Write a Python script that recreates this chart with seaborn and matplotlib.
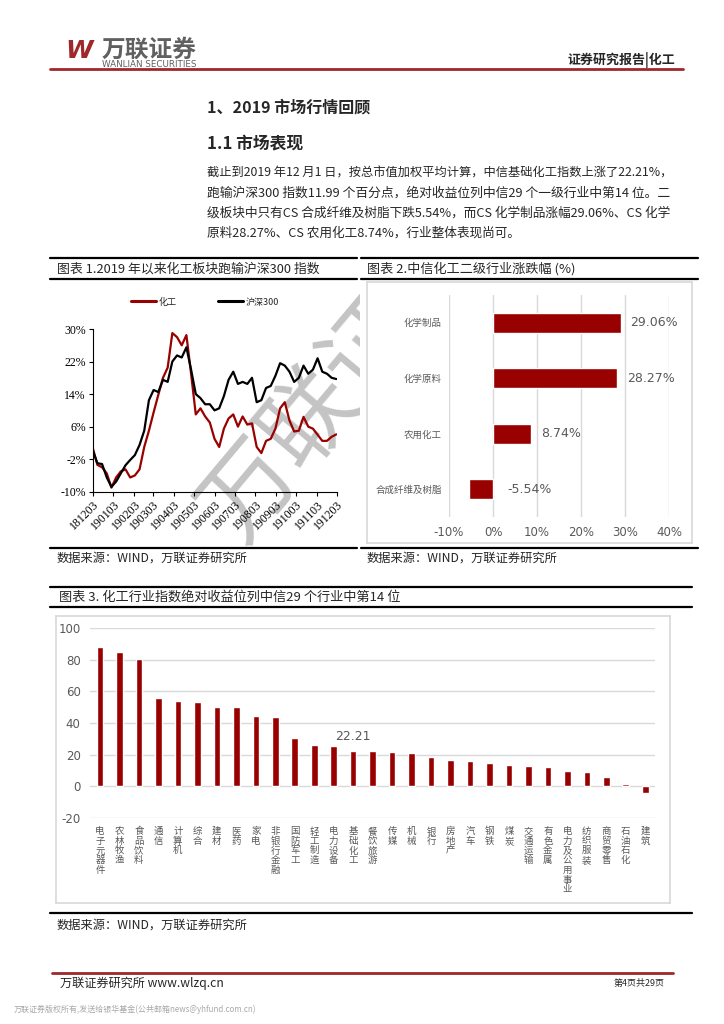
import matplotlib
matplotlib.use('Agg')
import matplotlib.pyplot as plt
from matplotlib.lines import Line2D
from matplotlib.transforms import Bbox, TransformedBbox
import numpy as np
import pandas as pd
import seaborn as sns

W, H = 724, 1024

# ---- data ----
dates = pd.date_range('2018-12-03', periods=53, freq='7D')
chem = [0.8, -3.4, -4.0, -5.5, -9.0, -6.5, -5.0, -4.5, -6.5, -6.0, -4.5, 1.0, 5.0,
        9.5, 13.8, 18.0, 20.5, 29.0, 28.0, 26.0, 28.5, 19.0, 9.0, 10.5, 8.5, 7.0,
        3.0, 1.0, 5.5, 8.0, 9.0, 6.0, 8.5, 6.5, 6.8, 1.0, -0.5, 2.5, 3.0, 5.5, 10.5,
        12.0, 7.5, 4.8, 5.0, 8.4, 6.0, 5.5, 4.0, 2.5, 2.5, 3.5, 4.1]
hs300 = [0.2, -3.0, -3.2, -6.5, -8.8, -7.5, -5.5, -3.5, -2.2, -1.0, 1.5, 5.0, 12.5,
         15.0, 14.5, 17.5, 17.0, 22.0, 23.5, 23.0, 25.5, 20.0, 14.0, 13.0, 11.5, 11.5,
         10.0, 10.5, 13.5, 17.5, 19.5, 16.5, 17.0, 16.5, 18.0, 12.0, 12.5, 15.5, 16.0,
         18.5, 21.6, 21.0, 19.5, 17.0, 18.0, 21.0, 19.0, 20.0, 22.8, 19.5, 19.0, 18.0, 17.7]
line_names = ['化工', '沪深300']
y_ticks1 = [-10, -2, 6, 14, 22, 30]

sub_names = ['化学制品', '化学原料', '农用化工', '合成纤维及树脂']
sub_values = [29.06, 28.27, 8.74, -5.54]

ind_names = ['电子元器件', '农林牧渔', '食品饮料', '通信', '计算机', '综合', '建材', '医药',
             '家电', '非银行金融', '国防军工', '轻工制造', '电力设备', '基础化工', '餐饮旅游',
             '传媒', '机械', '银行', '房地产', '汽车', '钢铁', '煤炭', '交通运输', '有色金属',
             '电力及公用事业', '纺织服装', '商贸零售', '石油石化', '建筑']
ind_values = [88.0, 85.1, 80.4, 55.8, 53.9, 53.5, 50.1, 49.9, 44.6, 43.8, 30.5, 26.3,
              25.3, 22.21, 22.1, 21.9, 20.8, 18.3, 16.4, 16.0, 14.9, 13.7, 12.8, 12.4,
              9.7, 9.1, 6.1, 1.3, -4.2]
highlight = '基础化工'

RED = '#990000'
GRAY = '#595959'
GRID = '#d9d9d9'
BRAND = '#A0282A'

sns.set_theme(style='white')
plt.rcParams['font.family'] = ['Noto Sans CJK SC', 'DejaVu Sans']
plt.rcParams['axes.unicode_minus'] = False

fig = plt.figure(figsize=(W / 100, H / 100), dpi=100)
renderer = fig.canvas.get_renderer()


def box(x0, y0, x1, y1):
    return [x0 / W, 1 - y1 / H, (x1 - x0) / W, (y1 - y0) / H]


def hline(x0, x1, y, color='black', lw=1.6):
    fig.add_artist(Line2D([x0 / W, x1 / W], [1 - y / H, 1 - y / H], color=color, lw=lw))


def text(x, y, s, **kw):
    kw.setdefault('va', 'center')
    return fig.text(x / W, 1 - y / H, s, **kw)


def fit(x, y, s, width, size=9, **kw):
    "text scaled so it spans `width` pixels"
    t = text(x, y, s, fontsize=size, **kw)
    w = t.get_window_extent(renderer).width
    t.set_fontsize(size * width / w)
    return t


# ---- page header ----
text(65, 51, 'W', fontsize=18, fontweight='bold', style='italic', color=BRAND, family='DejaVu Sans')
fit(102, 50, '万联证券', 95, size=15, color='#606060', fontweight='bold')
fit(102, 64.5, 'WANLIAN SECURITIES', 95, size=5.5, color='#606060', family='DejaVu Sans')
fit(675 - 107, 60, '证券研究报告|化工', 107, size=8.5, fontweight='bold')
hline(50, 683, 69, color=BRAND, lw=2)

# ---- body text ----
fit(207, 107, '1、2019 市场行情回顾', 163, size=11, fontweight='bold')
fit(207, 143, '1.1 市场表现', 96, size=11, fontweight='bold')
para = ['截止到2019 年12 月1 日，按总市值加权平均计算，中信基础化工指数上涨了22.21%，',
        '跑输沪深300 指数11.99 个百分点，绝对收益位列中信29 个一级行业中第14 位。二',
        '级板块中只有CS 合成纤维及树脂下跌5.54%，而CS 化学制品涨幅29.06%、CS 化学']
for i, s in enumerate(para):
    t = fit(207, 173 + 20 * i, s, 465, size=9)
text(207, 233, '原料28.27%、CS 农用化工8.74%，行业整体表现尚可。', fontsize=t.get_fontsize())

# ---- chart frames ----
for x0, x1 in [(50, 357), (361, 698)]:
    hline(x0, x1, 258)
    hline(x0, x1, 279)
    hline(x0, x1, 548)
fit(57, 269, '图表 1.2019 年以来化工板块跑输沪深300 指数', 263, size=9)
fit(367, 269, '图表 2.中信化工二级行业涨跌幅 (%)', 208, size=9)
fit(57, 558, '数据来源：WIND，万联证券研究所', 190, size=8.5)
fit(367, 558, '数据来源：WIND，万联证券研究所', 190, size=8.5)

hline(50, 692, 587)
hline(50, 692, 607)
hline(50, 692, 913)
fit(59, 597, '图表 3. 化工行业指数绝对收益位列中信29 个行业中第14 位', 342, size=9)
fit(57, 925, '数据来源：WIND，万联证券研究所', 190, size=8.5)

# ---- chart 1: lines ----
ax1 = fig.add_axes(box(92.7, 329, 337, 491.7), zorder=4)
ax1.patch.set_alpha(0)
df1 = pd.DataFrame({'date': list(dates) * 2,
                    'value': chem + hs300,
                    'series': [line_names[0]] * len(chem) + [line_names[1]] * len(hs300)})
sns.lineplot(data=df1, x='date', y='value', hue='series',
             palette={line_names[0]: RED, line_names[1]: 'black'}, lw=1.6, ax=ax1)
ax1.set_xlim(pd.Timestamp('2018-12-03'), pd.Timestamp('2019-12-03'))
ax1.set_ylim(-10, 30)
ax1.set_yticks(y_ticks1)
ax1.set_yticklabels([f'{v}%' for v in y_ticks1], family='Liberation Serif', fontsize=8.5)
xt = pd.date_range('2018-12-01', '2019-12-01', freq='MS') + pd.Timedelta(days=2)
ax1.set_xticks(xt)
ax1.set_xticklabels([d.strftime('%y%m%d') for d in xt], family='Liberation Serif', fontsize=8.5,
                    rotation=45, ha='right', rotation_mode='anchor')
ax1.set_xlabel('')
ax1.set_ylabel('')
sns.despine(ax=ax1)
for s in ['left', 'bottom']:
    ax1.spines[s].set_color('black')
    ax1.spines[s].set_linewidth(0.8)
ax1.tick_params(bottom=True, left=True, direction='out', length=3, width=0.8, color='black',
                labelcolor='black', pad=2)
leg = ax1.legend(loc='center', bbox_to_anchor=(0.46, 1.166), ncol=2, frameon=False, fontsize=6.5,
                 handlelength=2.8, columnspacing=4.5, handletextpad=0.3)
for h in leg.legend_handles:
    h.set_linewidth(2.2)

# watermark, only visible over the left panel, under the lines
wm = text(342, 382, '万联证券', fontsize=68, color='#c4c4c4', rotation=50, ha='center',
          rotation_mode='anchor', zorder=3)
wm.set_clip_box(TransformedBbox(Bbox([[45 / W, 1 - 548 / H], [360 / W, 1 - 280 / H]]),
                                fig.transFigure))
wm.set_clip_on(True)

# ---- chart 2: sub-industry bars ----
bg2 = fig.add_axes(box(367, 282, 692, 543), zorder=5)
bg2.set_xticks([])
bg2.set_yticks([])
for s in bg2.spines.values():
    s.set_color(GRID)
ax2 = fig.add_axes(box(449, 295, 669, 517), zorder=6)
ax2.patch.set_alpha(0)
df2 = pd.DataFrame({'name': sub_names, 'value': sub_values})
sns.barplot(data=df2, x='value', y='name', color=RED, saturation=1, width=0.36, ax=ax2)
ax2.set_xlim(-10, 40)
ax2.set_ylim(3.5, -0.5)
ax2.set_xticks(range(-10, 41, 10))
ax2.set_xticklabels([f'{v}%' for v in range(-10, 41, 10)], fontsize=8.5, color=GRAY,
                    family='DejaVu Sans')
ax2.set_yticklabels(sub_names, fontsize=6.8, color=GRAY)
ax2.grid(axis='x', color=GRID, lw=1)
ax2.set_axisbelow(True)
for s in ax2.spines.values():
    s.set_visible(False)
ax2.tick_params(length=0)
ax2.tick_params(axis='x', pad=6.5)
ax2.tick_params(axis='y', pad=5)
ax2.set_xlabel('')
ax2.set_ylabel('')
for i, v in enumerate(sub_values):
    ax2.text(v + 2.2 if v > 0 else 3.2, i, f'{v:.2f}%', va='center', ha='left',
             fontsize=9, color=GRAY, family='DejaVu Sans')

# ---- chart 3: industry bars ----
bg3 = fig.add_axes(box(56, 616, 670, 903), zorder=5)
bg3.set_xticks([])
bg3.set_yticks([])
for s in bg3.spines.values():
    s.set_color(GRID)
ax3 = fig.add_axes(box(90.3, 628, 655, 818), zorder=6)
ax3.patch.set_alpha(0)
df3 = pd.DataFrame({'name': ind_names, 'value': ind_values})
sns.barplot(data=df3, x='name', y='value', color=RED, saturation=1, width=0.34, ax=ax3)
ax3.set_ylim(-20, 100)
ax3.set_xlim(-0.5, len(ind_names) - 0.5)
ax3.set_yticks(range(-20, 101, 20))
ax3.set_yticklabels([str(v) for v in range(-20, 101, 20)], fontsize=8.5, color=GRAY,
                    family='DejaVu Sans')
ax3.set_xticks(range(len(ind_names)))
ax3.set_xticklabels([])
# vertical category names, one character per row
for i, n in enumerate(ind_names):
    for j, ch in enumerate(n):
        ax3.annotate(ch, xy=(i, 0), xycoords=('data', 'axes fraction'),
                     xytext=(0, -9 - 9.7 * j), textcoords='offset pixels',
                     ha='center', va='top', fontsize=6.8, color=GRAY)
ax3.grid(axis='y', color=GRID, lw=1)
ax3.set_axisbelow(True)
for s in ax3.spines.values():
    s.set_visible(False)
ax3.tick_params(length=0)
ax3.tick_params(axis='y', pad=7)
ax3.set_xlabel('')
ax3.set_ylabel('')
k = ind_names.index(highlight)
ax3.text(k, ind_values[k] + 9.4, f'{ind_values[k]:.2f}', ha='center', va='center',
         fontsize=9, color=GRAY, family='DejaVu Sans')

# ---- footer ----
hline(52, 673, 973, color=BRAND, lw=2)
fit(60, 983, '万联证券研究所 www.wlzq.cn', 164, size=8.5)
fit(614, 983, '第4页共29页', 51, size=7.5)
fit(14, 1009, '万联证券版权所有,发送给银华基金(公共邮箱news@yhfund.com.cn)', 242, size=5.2,
    color='#a8a8a8')

fig.savefig('out.png', dpi=100)
